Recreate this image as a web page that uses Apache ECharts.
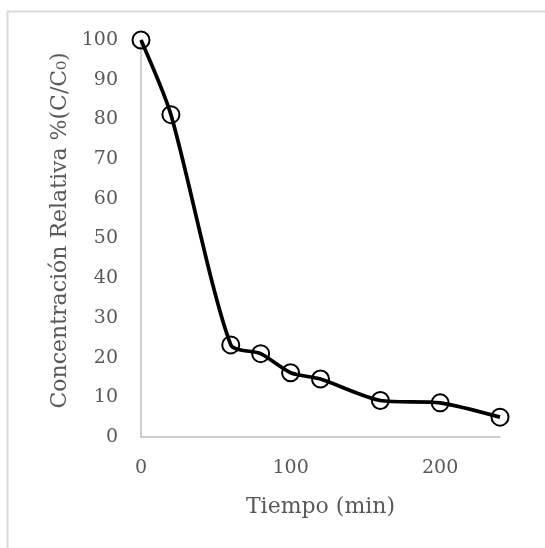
<!DOCTYPE html>
<html>
<head>
<meta charset="utf-8">
<script src="https://cdn.jsdelivr.net/npm/echarts@6/dist/echarts.min.js"></script>
<style>html,body{margin:0;padding:0;background:#fff}#c{width:545px;height:548px}</style>
</head>
<body>
<div id="c"></div>
<script>
var tiempo = [0, 20, 60, 80, 100, 120, 160, 200, 240];
var concentracion = [100, 81.2, 23.2, 21.0, 16.2, 14.6, 9.2, 8.6, 5.0];
var xTitle = 'Tiempo (min)';
var yTitle = 'Concentración Relativa %(C/C₀)';

var data = tiempo.map(function (t, i) { return [t, concentracion[i]]; });
var font = 'DejaVu Serif';
var fsLabel = 19;
var fsTitle = 22;
var chart = echarts.init(document.getElementById('c'));
chart.setOption({
  animation: false,
  backgroundColor: '#fff',
  graphic: [{
    type: 'polyline',
    shape: { points: [[7.5, 560], [7.5, 11.5], [560, 11.5]] },
    style: { stroke: '#d9d9d9', lineWidth: 2, fill: null }
  }],
  grid: { left: 141, right: 45, top: 40, bottom: 111 },
  xAxis: {
    type: 'value', min: 0, max: 240, interval: 100,
    name: xTitle, nameLocation: 'middle', nameGap: 59,
    nameTextStyle: { fontFamily: font, fontSize: fsTitle, color: '#595959' },
    axisLine: { show: true, lineStyle: { color: '#bfbfbf', width: 1.5 } },
    axisTick: { show: false },
    splitLine: { show: false },
    axisLabel: { fontFamily: font, fontSize: fsLabel, color: '#595959', margin: 22, showMaxLabel: false }
  },
  yAxis: {
    type: 'value', min: 0, max: 100, interval: 10,
    name: yTitle, nameLocation: 'middle', nameGap: 70,
    nameTextStyle: { fontFamily: font, fontSize: fsTitle, color: '#595959', padding: [0, 0, 0, 16] },
    axisLine: { show: true, lineStyle: { color: '#bfbfbf', width: 1.5 } },
    axisTick: { show: false },
    splitLine: { show: false },
    axisLabel: { fontFamily: font, fontSize: fsLabel, color: '#595959', margin: 23 }
  },
  series: [{
    type: 'line',
    data: data,
    smooth: 0.25,
    symbol: 'circle',
    symbolSize: 17,
    showAllSymbol: true,
    lineStyle: { color: '#000', width: 3.7 },
    itemStyle: { color: 'rgba(0,0,0,0)', borderColor: '#000', borderWidth: 2 },
    z: 3
  }]
});
</script>
</body>
</html>
